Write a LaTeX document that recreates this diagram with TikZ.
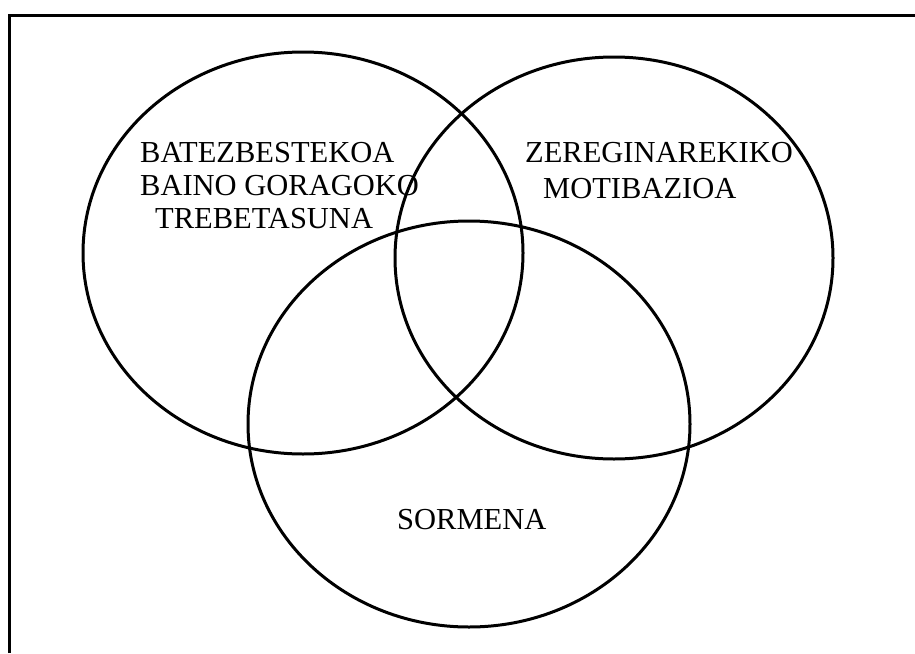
\documentclass[tikz,border=0pt]{standalone}
\usepackage{fontspec}
\setmainfont{Liberation Serif}
\begin{document}
\begin{tikzpicture}[x=1pt,y=-1pt,
  venn/.style={line width=3pt},
  frame/.style={line width=3pt},
  lbl/.style={anchor=base west,inner sep=0pt,font=\fontsize{30.5}{34}\selectfont}]
\useasboundingbox (0,0) rectangle (915,653);
\draw[frame] (9,653) -- (9,15) -- (915,15);
\draw[venn] (303,253) ellipse [x radius=220, y radius=201];
\draw[venn] (614,258) ellipse [x radius=219, y radius=201];
\draw[venn] (469,424) ellipse [x radius=221, y radius=203];
\node[lbl] (a1) at (140,162) {BATEZBESTEKOA};
\node[lbl] (a2) at (140,195) {BAINO GORAGOKO};
\node[lbl] (a3) at (155,228) {TREBETASUNA};
\node[lbl] (b1) at (525,162) {ZEREGINAREKIKO};
\node[lbl] (b2) at (543,198) {MOTIBAZIOA};
\node[lbl] (c1) at (397,529) {SORMENA};
\end{tikzpicture}
\end{document}
